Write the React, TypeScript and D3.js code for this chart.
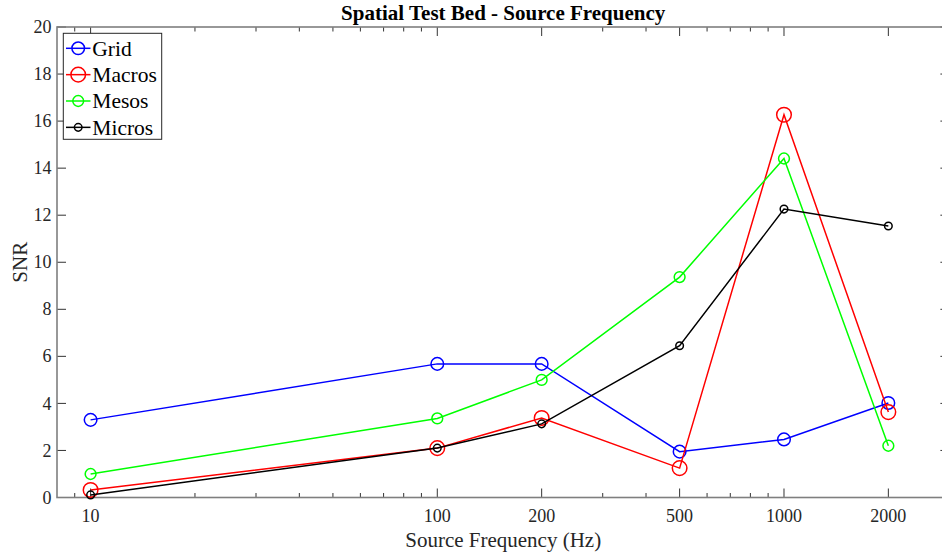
import React from "react";
import * as d3 from "d3";

// Source frequencies (Hz) and SNR per array type
const frequencies = [10, 100, 200, 500, 1000, 2000];
const gridSNR = [3.3, 5.68, 5.68, 1.95, 2.47, 4.02];
const macrosSNR = [0.32, 2.1, 3.38, 1.25, 16.27, 3.63];
const mesosSNR = [1.0, 3.36, 5.0, 9.37, 14.41, 2.2];
const microsSNR = [0.11, 2.1, 3.13, 6.45, 12.26, 11.54];

const seriesNames = ["Grid", "Macros", "Mesos", "Micros"];
const xTickValues = [10, 100, 200, 500, 1000, 2000];
const xMinorTicks = [9, 20, 30, 40, 50, 60, 70, 80, 90, 300, 400, 600, 700, 800, 900, 3000];
const yTickValues = [0, 2, 4, 6, 8, 10, 12, 14, 16, 18, 20];

const W = 942;
const H = 555;
const left = 57;
const right = 949.4;
const top = 27;
const bottom = 497.5;

const styles = [
  { color: "#0000ff", r: 6.3 },
  { color: "#ff0000", r: 7.3 },
  { color: "#00ff00", r: 5.4 },
  { color: "#000000", r: 3.8 },
];

export default function App() {
  const x = d3.scaleLog().domain([8, 3000]).range([left, right]);
  const y = d3.scaleLinear().domain([0, 20]).range([bottom, top]);
  const all = [gridSNR, macrosSNR, mesosSNR, microsSNR];
  const line = d3
    .line<number>()
    .x((_, i) => x(frequencies[i]))
    .y((d) => y(d));

  const font = "'Liberation Serif', 'Times New Roman', serif";
  const axisColor = "#7f7f7f";
  const tickColor = "#333";
  const textColor = "#262626";

  return (
    <svg
      width={W}
      height={H}
      style={{ position: "absolute", left: 0, top: 0, display: "block", background: "#fff" }}
      fontFamily={font}
    >
      <defs>
        <clipPath id="plotArea">
          <rect x={left} y={top - 10} width={right - left + 10} height={bottom - top + 20} />
        </clipPath>
      </defs>

      {/* minor x ticks, bottom and top */}
      {xMinorTicks.map((t) => (
        <g key={"mn" + t} stroke={tickColor} strokeWidth={1}>
          <line x1={x(t)} x2={x(t)} y1={bottom} y2={bottom - 4.5} />
          <line x1={x(t)} x2={x(t)} y1={top} y2={top + 4.5} />
        </g>
      ))}
      {/* major x ticks */}
      {xTickValues.map((t) => (
        <g key={"mj" + t}>
          <line x1={x(t)} x2={x(t)} y1={bottom} y2={bottom - 9} stroke={tickColor} strokeWidth={1} />
          <line x1={x(t)} x2={x(t)} y1={top} y2={top + 9} stroke={tickColor} strokeWidth={1} />
          <text x={x(t)} y={521.7} textAnchor="middle" fontSize={18} fill={textColor}>
            {t}
          </text>
        </g>
      ))}
      {/* y ticks */}
      {yTickValues.map((t) => (
        <g key={"y" + t}>
          <line x1={left} x2={left + 9} y1={y(t)} y2={y(t)} stroke={tickColor} strokeWidth={1} />
          <line x1={right} x2={right - 9} y1={y(t)} y2={y(t)} stroke={tickColor} strokeWidth={1} />
          <text x={51.5} y={y(t)} dy="0.34em" textAnchor="end" fontSize={18} fill={textColor}>
            {t}
          </text>
        </g>
      ))}

      {/* axes box */}
      <rect
        x={left}
        y={top}
        width={right - left}
        height={bottom - top}
        fill="none"
        stroke={axisColor}
        strokeWidth={1.6}
      />

      {/* series */}
      <g clipPath="url(#plotArea)">
        {all.map((vals, si) => (
          <g key={seriesNames[si]}>
            <path d={line(vals) || ""} fill="none" stroke={styles[si].color} strokeWidth={1.5} />
            {vals.map((v, i) => (
              <circle
                key={i}
                cx={x(frequencies[i])}
                cy={y(v)}
                r={styles[si].r}
                fill="none"
                stroke={styles[si].color}
                strokeWidth={1.5}
              />
            ))}
          </g>
        ))}
      </g>

      {/* legend */}
      <g>
        <rect x={63.3} y={33.3} width={98.4} height={106} fill="#fff" stroke="#262626" strokeWidth={1} />
        {seriesNames.map((name, i) => {
          const cy = 48.3 + i * 26.35;
          return (
            <g key={name}>
              <line x1={66} x2={90.5} y1={cy} y2={cy} stroke={styles[i].color} strokeWidth={1.5} />
              <circle cx={78.2} cy={cy} r={styles[i].r} fill="none" stroke={styles[i].color} strokeWidth={1.5} />
              <text x={92.3} y={cy} dy="0.34em" fontSize={21.5} fill="#000">
                {name}
              </text>
            </g>
          );
        })}
      </g>

      {/* labels */}
      <text x={(left + right) / 2} y={20} textAnchor="middle" fontSize={21} fontWeight="bold" fill="#000">
        Spatial Test Bed - Source Frequency
      </text>
      <text x={(left + right) / 2} y={546.7} textAnchor="middle" fontSize={21} fill={textColor}>
        Source Frequency (Hz)
      </text>
      <text
        transform={`translate(26.5, ${(top + bottom) / 2}) rotate(-90)`}
        textAnchor="middle"
        fontSize={21}
        fill={textColor}
      >
        SNR
      </text>
    </svg>
  );
}
